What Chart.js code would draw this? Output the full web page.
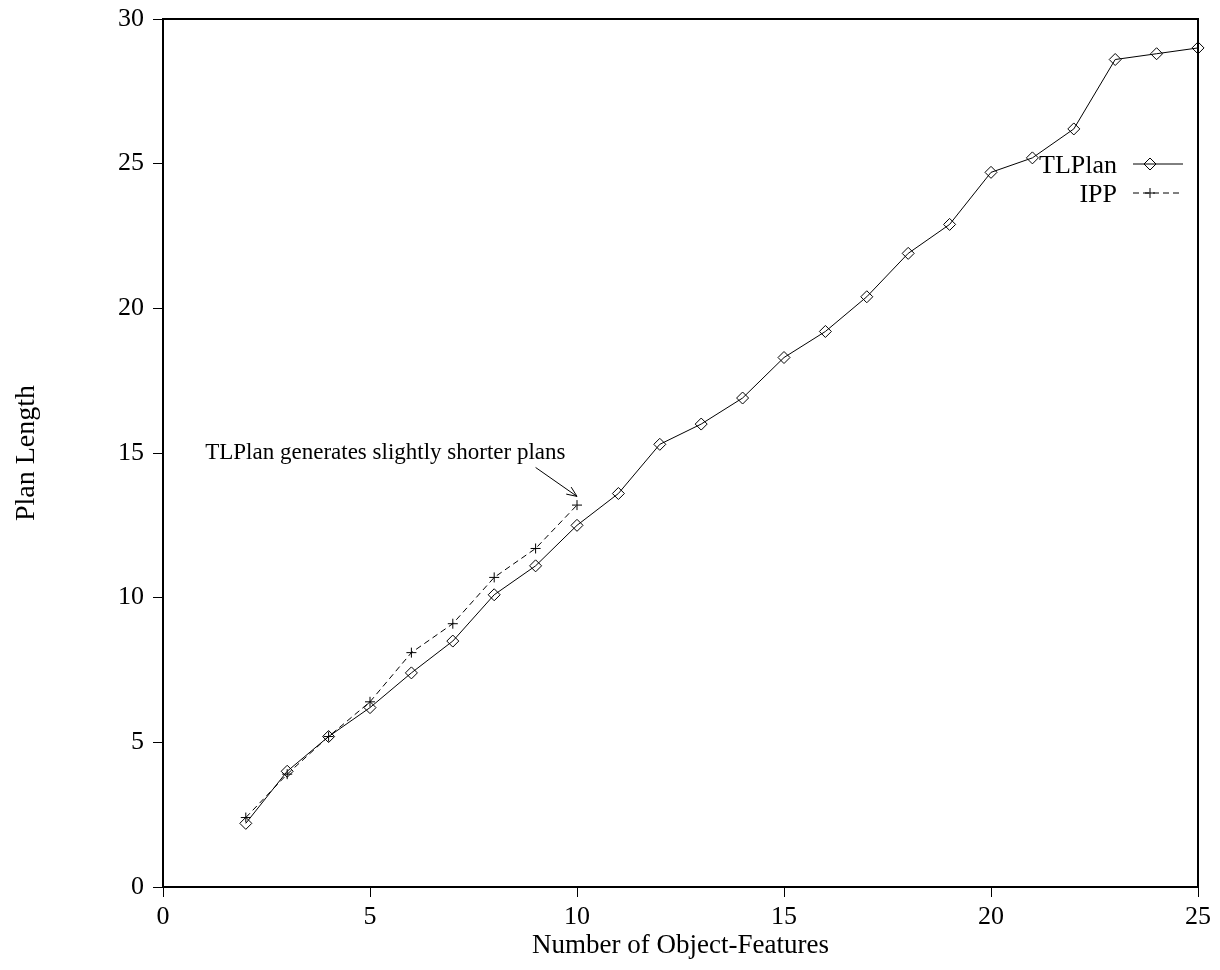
<!DOCTYPE html>
<html>
<head>
<meta charset="utf-8">
<script src="https://cdn.jsdelivr.net/npm/chart.js@4.4.1/dist/chart.umd.min.js"></script>
<style>
  body { margin: 0; background: #fff; }
  canvas { display: block; }
</style>
</head>
<body>
<canvas id="plot" width="1220" height="970"></canvas>
<script>
const tlplanX = [2, 3, 4, 5, 6, 7, 8, 9, 10, 11, 12, 13, 14, 15, 16, 17, 18, 19, 20, 21, 22, 23, 24, 25];
const tlplanY = [2.2, 4.0, 5.2, 6.2, 7.4, 8.5, 10.1, 11.1, 12.5, 13.6, 15.3, 16.0, 16.9, 18.3, 19.2, 20.4, 21.9, 22.9, 24.7, 25.2, 26.2, 28.6, 28.8, 29.0];
const ippX = [2, 3, 4, 5, 6, 7, 8, 9, 10];
const ippY = [2.4, 3.9, 5.2, 6.4, 8.1, 9.1, 10.7, 11.7, 13.2];
const xTicks = [0, 5, 10, 15, 20, 25];
const yTicks = [0, 5, 10, 15, 20, 25, 30];
const note = "TLPlan generates slightly shorter plans";

const serif = "'Liberation Serif', 'DejaVu Serif', serif";

const toPoints = (xs, ys) => xs.map((x, i) => ({ x: x, y: ys[i] }));

// frame, in-plot legend and the arrow note
const extras = {
  id: "extras",
  afterDraw(chart) {
    const { ctx, chartArea: a, scales } = chart;
    ctx.save();
    ctx.strokeStyle = "#000";
    ctx.lineWidth = 2;
    ctx.beginPath();
    ctx.moveTo(a.left, a.top);
    ctx.lineTo(a.right, a.top);
    ctx.lineTo(a.right, a.bottom);
    ctx.stroke();

    // legend
    ctx.font = "26px " + serif;
    ctx.textAlign = "right";
    ctx.textBaseline = "middle";
    chart.data.datasets.forEach((ds, i) => {
      const y = 164 + i * 29;
      ctx.fillStyle = "#000";
      ctx.fillText(ds.label, 1117, y + 2);
      ctx.lineWidth = 1;
      ctx.setLineDash(ds.borderDash || []);
      ctx.beginPath();
      ctx.moveTo(1133, y);
      ctx.lineTo(1183, y);
      ctx.stroke();
      ctx.setLineDash([]);
      ctx.fillStyle = "rgba(0,0,0,0)";
      Chart.helpers.drawPoint(ctx, {
        pointStyle: ds.pointStyle,
        radius: ds.pointRadius,
        borderWidth: 1
      }, 1150, y);
    });

    // note with arrow
    const xs = scales.x, ys = scales.y;
    ctx.fillStyle = "#000";
    ctx.font = "23px " + serif;
    ctx.textAlign = "left";
    ctx.fillText(note, xs.getPixelForValue(1.02), ys.getPixelForValue(15.0));
    const x0 = xs.getPixelForValue(9.0), y0 = ys.getPixelForValue(14.5);
    const x1 = xs.getPixelForValue(10.0), y1 = ys.getPixelForValue(13.5);
    ctx.lineWidth = 1;
    ctx.beginPath();
    ctx.moveTo(x0, y0);
    ctx.lineTo(x1, y1);
    const ang = Math.atan2(y1 - y0, x1 - x0);
    const h = 11;
    ctx.moveTo(x1 - h * Math.cos(ang - 0.4), y1 - h * Math.sin(ang - 0.4));
    ctx.lineTo(x1, y1);
    ctx.lineTo(x1 - h * Math.cos(ang + 0.4), y1 - h * Math.sin(ang + 0.4));
    ctx.stroke();
    ctx.restore();
  }
};

new Chart(document.getElementById("plot"), {
  type: "line",
  data: {
    datasets: [
      {
        label: "TLPlan",
        data: toPoints(tlplanX, tlplanY),
        borderColor: "#000",
        borderWidth: 1,
        pointStyle: "rectRot",
        pointRadius: 6,
        pointBorderWidth: 1,
        pointBorderColor: "#000",
        pointBackgroundColor: "rgba(0,0,0,0)",
        fill: false,
        tension: 0,
        clip: 10
      },
      {
        label: "IPP",
        data: toPoints(ippX, ippY),
        borderColor: "#000",
        borderWidth: 1,
        borderDash: [6, 4],
        pointStyle: "cross",
        pointRadius: 5,
        pointBorderWidth: 1,
        pointBorderColor: "#000",
        fill: false,
        tension: 0,
        clip: 10
      }
    ]
  },
  options: {
    responsive: false,
    animation: false,
    layout: { padding: { top: 19, right: 22, left: 0, bottom: 0 } },
    plugins: {
      legend: { display: false },
      tooltip: { enabled: false }
    },
    scales: {
      x: {
        type: "linear",
        min: 0,
        max: 25,
        afterBuildTicks: (s) => { s.ticks = xTicks.map(v => ({ value: v })); },
        afterFit: (s) => { s.height = 83; s.paddingRight = 0; s.paddingLeft = 0; },
        ticks: { color: "#000", padding: 5, font: { family: serif, size: 26 } },
        grid: { drawOnChartArea: false, tickLength: 10, color: "#000", tickWidth: 1 },
        border: { color: "#000", width: 2 },
        title: {
          display: true,
          text: "Number of Object-Features",
          color: "#000",
          font: { family: serif, size: 27 },
          padding: { top: 0, bottom: 8 }
        }
      },
      y: {
        min: 0,
        max: 30,
        afterBuildTicks: (s) => { s.ticks = yTicks.map(v => ({ value: v })); },
        afterFit: (s) => { s.width = 163; s.paddingTop = 0; s.paddingBottom = 0; },
        ticks: { color: "#000", padding: 9, font: { family: serif, size: 26 } },
        grid: { drawOnChartArea: false, tickLength: 10, color: "#000", tickWidth: 1 },
        border: { color: "#000", width: 2 },
        title: {
          display: true,
          text: "Plan Length",
          color: "#000",
          font: { family: serif, size: 28 },
          padding: { top: 10, bottom: 0 }
        }
      }
    }
  },
  plugins: [extras]
});
</script>
</body>
</html>
